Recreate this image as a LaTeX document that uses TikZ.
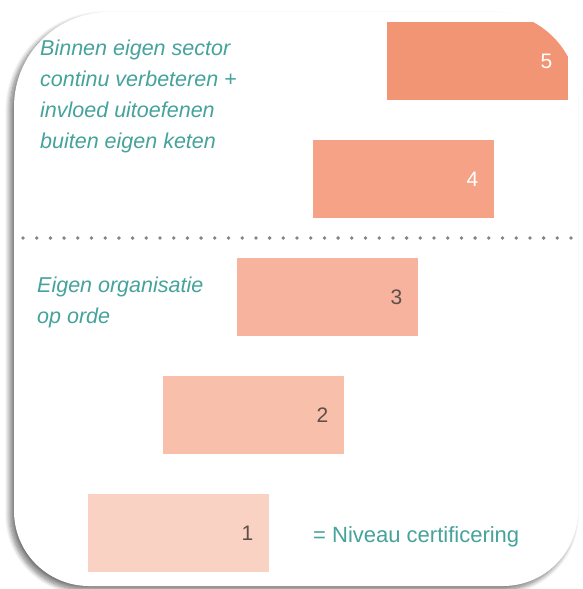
\documentclass[tikz,border=0pt]{standalone}
\usepackage{fontspec}
\setmainfont{Liberation Sans}
\usetikzlibrary{positioning,shadows.blur}

\definecolor{tealtxt}{HTML}{45A39C}
\definecolor{numdark}{HTML}{5E4F4A}
\definecolor{lvlfive}{HTML}{F29575}
\definecolor{lvlfour}{HTML}{F5A287}
\definecolor{lvlthree}{HTML}{F7B39D}
\definecolor{lvltwo}{HTML}{F8BFAB}
\definecolor{lvlone}{HTML}{FAD2C3}

\def\cardpath{(14,511) -- (14,107) arc[start angle=180,end angle=270,radius=95]
  -- (493,12) arc[start angle=270,end angle=360,radius=85]
  -- (578,511) arc[start angle=0,end angle=90,radius=75]
  -- (89,586) arc[start angle=90,end angle=180,radius=75] -- cycle}

\begin{document}
\begin{tikzpicture}[x=1pt,y=-1pt,
    lvl/.style={minimum width=181pt,minimum height=78pt,inner sep=0pt,anchor=north west},
    nr/.style={font=\fontsize{21}{21}\selectfont,inner sep=0pt,anchor=east},
    note/.style={font=\fontsize{21.5}{31}\selectfont\itshape,text=tealtxt,align=left,inner sep=0pt,anchor=north west}]
  \useasboundingbox (0,0) rectangle (582,589);
  % card with shadow
  \fill[white,blur shadow={shadow xshift=-4pt,shadow yshift=-4pt,shadow blur radius=5pt,shadow opacity=55,shadow blur steps=12}] \cardpath;
  \begin{scope}
    \clip \cardpath;
    \node[lvl,fill=lvlfive] at (387,22) (b5) {};
    \node[lvl,fill=lvlfour] at (313,140) (b4) {};
    \node[lvl,fill=lvlthree] at (237,258) (b3) {};
    \node[lvl,fill=lvltwo] at (163,376) (b2) {};
    \node[lvl,fill=lvlone] at (88,494) (b1) {};
  \end{scope}
  \node[nr,text=white,left=16pt of b5.east] (n5) {5};
  \node[nr,text=white,left=16pt of b4.east] (n4) {4};
  \node[nr,text=numdark,left=16pt of b3.east] (n3) {3};
  \node[nr,text=numdark,left=16pt of b2.east] (n2) {2};
  \node[nr,text=numdark,left=16pt of b1.east] (n1) {1};
  % texts
  \node[note] at (40,40) (keten) {Binnen eigen sector\\continu verbeteren +\\invloed uitoefenen\\buiten eigen keten};
  \node[note] at (37,277) (orde) {Eigen organisatie\\op orde};
  \node[anchor=base west,inner sep=0pt,text=tealtxt,font=\fontsize{22}{22}\selectfont] at (313,542) (cert) {= Niveau certificering};
  % dotted separator
  \coordinate (sepl) at (23,238);
  \coordinate (sepr) at (572,238);
  \draw[black!48,line width=3.8pt,line cap=round,dash pattern=on 0pt off 13.7pt] (sepl) -- (sepr);
\end{tikzpicture}
\end{document}
